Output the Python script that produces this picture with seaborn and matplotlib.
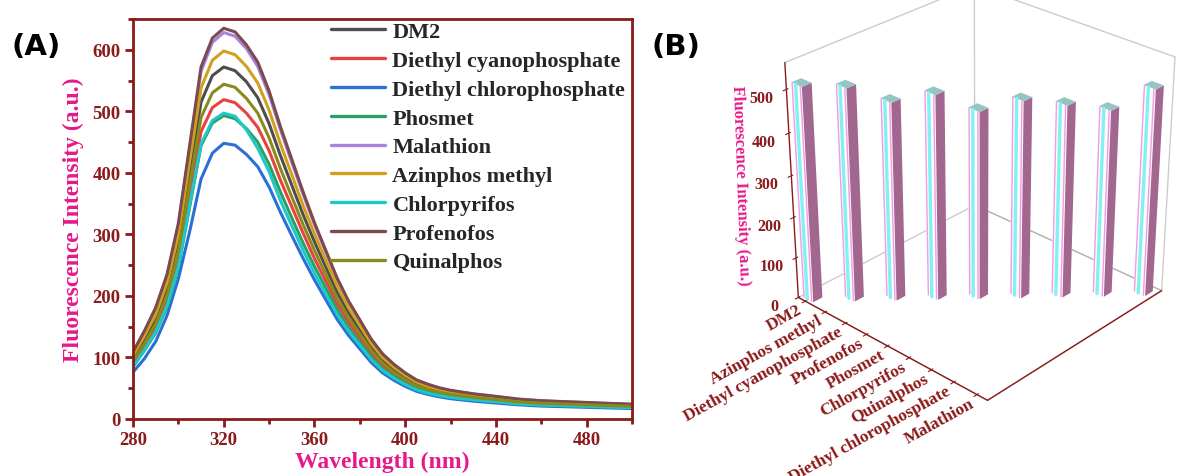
import numpy as np
import pandas as pd
import matplotlib
matplotlib.use("Agg")
import matplotlib.pyplot as plt
import seaborn as sns
from matplotlib.ticker import MultipleLocator

# ---------------- data: panel A (emission spectra) ----------------
wavelength = [280, 285, 290, 295, 300, 305, 310, 315, 320, 325, 330, 335, 340, 345,
              350, 355, 360, 365, 370, 375, 380, 385, 390, 395, 400, 405, 410, 415,
              420, 430, 440, 450, 460, 470, 480, 490, 500]

dm2 = [98, 129, 163, 212, 286, 400, 515, 558, 572, 566, 548, 522, 480, 428,
       380, 332, 288, 247, 206, 173, 145, 117, 96, 80, 67, 57, 51, 46,
       42, 37, 33, 29, 27, 25.5, 24.2, 22.9, 21.7]
diethyl_cyano = [89, 117, 148, 192, 260, 363, 467, 506, 519, 514, 497, 474, 436, 388,
                 345, 302, 261, 224, 187, 157, 132, 106, 87, 73, 61, 52, 46, 41.5,
                 38, 33.5, 30, 26.5, 24.4, 23.1, 22, 20.8, 19.7]
diethyl_chloro = [76, 98, 126, 168, 228, 305, 390, 432, 448, 445, 430, 410, 377, 336,
                  298, 261, 226, 194, 162, 136, 114, 92, 75, 63, 53, 45, 40, 36,
                  33, 29, 26, 23, 21, 20, 19, 18, 17]
phosmet = [85, 111, 140, 182, 246, 345, 444, 481, 493, 488, 472, 450, 414, 369,
           327, 286, 248, 213, 178, 149, 125, 101, 82, 69, 58, 49, 44, 39.4,
           36, 31.8, 28.6, 25.1, 23.2, 21.9, 20.9, 19.7, 18.7]
malathion = [108, 141, 179, 232, 314, 440, 565, 612, 628, 622, 602, 573, 527, 470,
             417, 365, 316, 271, 227, 190, 160, 129, 105, 88, 74, 63, 56, 50,
             46, 40.6, 36.4, 32, 29.5, 27.9, 26.6, 25.1, 23.8]
azinphos = [103, 135, 170, 221, 299, 419, 538, 583, 598, 592, 573, 546, 502, 447,
            397, 347, 301, 258, 216, 181, 152, 123, 100, 84, 71, 60, 53, 48,
            44, 38.6, 34.7, 30.5, 28.1, 26.6, 25.3, 23.9, 22.7]
chlorpyrifos = [85, 112, 142, 184, 248, 348, 447, 485, 497, 492, 470, 440, 402, 355,
                314, 274, 237, 203, 170, 143, 120, 97, 79, 66.5, 56, 47.5, 42, 38,
                35, 31, 28, 24.5, 22.7, 21.5, 20.5, 19.4, 18.3]
profenofos = [109, 143, 181, 235, 318, 445, 572, 619, 635, 629, 608, 580, 533, 475,
              422, 369, 319, 274, 229, 192, 161, 130, 106, 89, 75, 63.5, 56.5, 50.8,
              46.7, 41, 36.8, 32.4, 29.8, 28.3, 26.9, 25.4, 24.1]
quinalphos = [94, 122, 155, 201, 272, 381, 490, 530, 544, 539, 521, 497, 457, 407,
              361, 316, 274, 235, 196, 165, 138, 112, 91, 76, 64, 54, 48, 43.5,
              40, 35.1, 31.6, 27.7, 25.6, 24.2, 23, 21.8, 20.6]

series_names = ["DM2", "Diethyl cyanophosphate", "Diethyl chlorophosphate", "Phosmet",
                "Malathion", "Azinphos methyl", "Chlorpyrifos", "Profenofos", "Quinalphos"]
series_values = [dm2, diethyl_cyano, diethyl_chloro, phosmet, malathion, azinphos,
                 chlorpyrifos, profenofos, quinalphos]
series_colors = ["#4d4d4d", "#e8423f", "#2a6fd6", "#2f9e62", "#a982dd", "#d2a11b",
                 "#1cc8c8", "#7a4a4e", "#8a8a1c"]

# ---------------- data: panel B (3D bars) ----------------
bar_categories = ["DM2", "Azinphos methyl", "Diethyl cyanophosphate", "Profenofos",
                  "Phosmet", "Chlorpyrifos", "Quinalphos", "Diethyl chlorophosphate",
                  "Malathion"]
bar_values = [515, 510, 476, 492, 452, 475, 463, 450, 497]
z_ticks = [0, 100, 200, 300, 400, 500]

# ---------------- style ----------------
sns.set_style("white")
plt.rcParams["font.family"] = ["Liberation Serif", "DejaVu Sans"]
plt.rcParams["font.weight"] = "bold"
plt.rcParams["axes.labelweight"] = "bold"

DARKRED = "#8b1a1a"
MAGENTA = "#e5198a"

fig = plt.figure(figsize=(11.78, 4.77), dpi=100)

# ---------------- panel A ----------------
rows = []
for name, vals in zip(series_names, series_values):
    for w, v in zip(wavelength, vals):
        rows.append((w, v, name))
df = pd.DataFrame(rows, columns=["Wavelength", "Intensity", "Series"])

axA = fig.add_axes([133 / 1178, 1 - 420 / 477, (632 - 133) / 1178, (420 - 20) / 477])
sns.lineplot(data=df, x="Wavelength", y="Intensity", hue="Series",
             hue_order=series_names, palette=dict(zip(series_names, series_colors)),
             linewidth=2.2, errorbar=None, ax=axA)
axA.set_xlim(280, 500)
axA.set_ylim(0, 650)
axA.xaxis.set_major_locator(MultipleLocator(40))
axA.xaxis.set_minor_locator(MultipleLocator(20))
axA.yaxis.set_major_locator(MultipleLocator(100))
axA.yaxis.set_minor_locator(MultipleLocator(50))
for s in axA.spines.values():
    s.set_color(DARKRED)
    s.set_linewidth(2.0)
axA.tick_params(which="both", direction="out", bottom=True, left=True, top=False,
                right=False, color=DARKRED, labelcolor=DARKRED, width=2.0)
axA.tick_params(which="major", length=6, labelsize=13.5, pad=3)
axA.tick_params(which="minor", length=3.5)
axA.set_xlabel("Wavelength (nm)", color=MAGENTA, fontsize=17, fontweight="bold", labelpad=2)
axA.set_ylabel("Fluorescence Intensity (a.u.)", color=MAGENTA, fontsize=17,
               fontweight="bold", labelpad=6)
handles, labels = axA.get_legend_handles_labels()
leg = axA.legend(handles, labels, loc="upper left", bbox_to_anchor=(0.392, 1.0),
                 frameon=False, prop={"size": 16, "weight": "bold"},
                 handlelength=2.4, labelspacing=0.37, handletextpad=0.35,
                 borderaxespad=0.0, borderpad=0.12)
for line in leg.get_lines():
    line.set_linewidth(2.4)

fig.text(12 / 1178, 1 - 55 / 477, "(A)", fontsize=21, fontweight="bold",
         family=["DejaVu Sans"], color="black")
fig.text(652 / 1178, 1 - 55 / 477, "(B)", fontsize=21, fontweight="bold",
         family=["DejaVu Sans"], color="black")

# ---------------- panel B ----------------
axB = fig.add_axes([0.627, 0.025, 0.40, 1.16], projection="3d")
axB.set_proj_type("persp", focal_length=0.7)
axB.view_init(elev=28.5, azim=-47)
axB.set_box_aspect((1, 1, 1.0), zoom=0.95)

pos = np.arange(len(bar_values), dtype=float)
bdx, bdy = 0.5, 0.42
face = ["#ffffff", "#93c6c3", "#fefafd", "#ffffff", "#ffffff", "#a2678f"]
axB.bar3d(pos - bdx / 2, pos - bdy / 2, np.zeros_like(pos), bdx, bdy, bar_values,
          color=face * len(pos), shade=False, linewidth=0)
# stripes on the light face of each bar
for p, v in zip(pos, bar_values):
    y0 = p - bdy / 2 - 0.001
    for frac, col, lw in [(0.07, "#f29be6", 1.0), (0.40, "#7ff2f2", 2.4),
                          (0.85, "#f29be6", 1.0)]:
        xx = p - bdx / 2 + frac * bdx
        axB.plot([xx, xx], [y0, y0], [0, v], color=col, lw=lw, zorder=5)

axB.set_xlim(-0.35, 8.45)
axB.set_ylim(-0.35, 8.45)
axB.set_zlim(0, 560)
axB.set_xticks(pos)
axB.set_xticklabels(bar_categories, rotation=29, ha="right", va="center",
                    rotation_mode="anchor", color=DARKRED, fontsize=12.5,
                    fontweight="bold")
axB.tick_params(axis="x", pad=-4)
axB.set_yticks([])
axB.set_zticks(z_ticks)
axB.set_zticklabels([str(t) for t in z_ticks], color=DARKRED, fontsize=11.5,
                    fontweight="bold")
axB.zaxis.set_ticks_position("lower")
axB.zaxis.set_label_position("lower")
axB.zaxis.set_rotate_label(False)
axB.set_zlabel("Fluorescence Intensity (a.u.)", color=MAGENTA, fontsize=12,
               fontweight="bold", rotation=-88, labelpad=3)
axB.grid(False)
for axis in (axB.xaxis, axB.yaxis, axB.zaxis):
    axis.pane.fill = False
    axis.pane.set_edgecolor("#9a9a9a")
    axis.line.set_color(DARKRED)
    axis.line.set_linewidth(1.0)
axB.tick_params(axis="both", colors=DARKRED)

fig.savefig("out.png", dpi=100)
